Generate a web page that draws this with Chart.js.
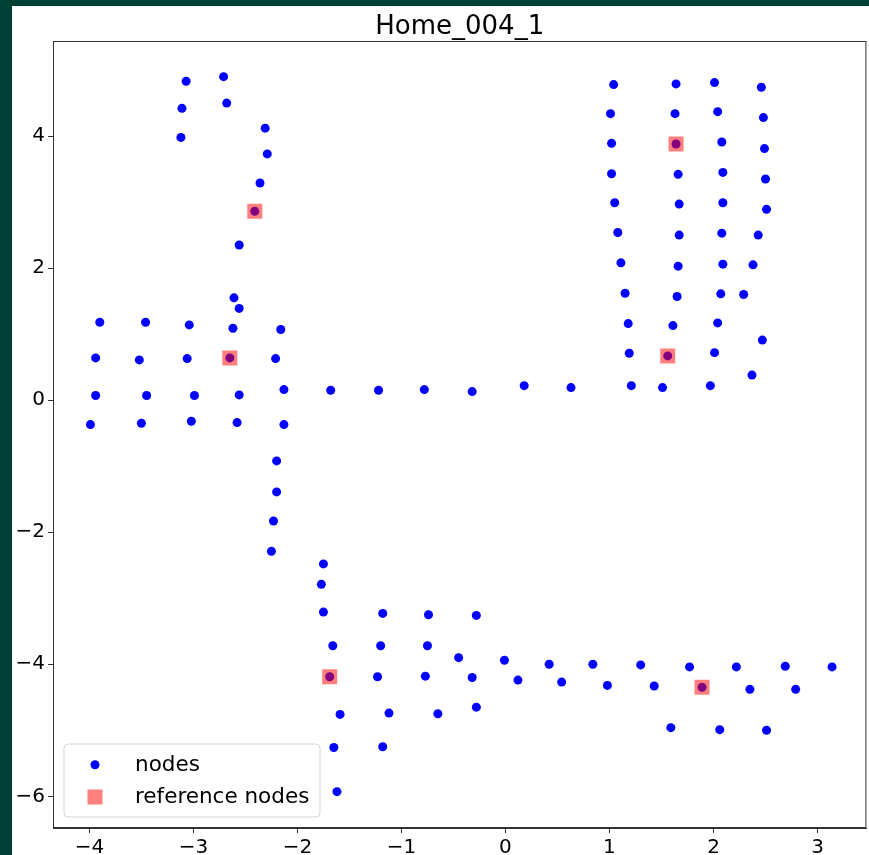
<!DOCTYPE html>
<html>
<head>
<meta charset="utf-8">
<script src="https://cdn.jsdelivr.net/npm/chart.js@4.4.1/dist/chart.umd.min.js"></script>
<style>
    html, body { margin: 0; padding: 0; }
    body { background: #003f34; width: 869px; height: 855px; overflow: hidden; position: relative; }
    #wrap { position: absolute; left: 12px; top: 6px; width: 857px; height: 849px; background: #ffffff; overflow: hidden; }
</style>
</head>
<body>
<!-- canvas is a little wider than its box: chart.js keeps some room right of the plot -->
<div id="wrap"><canvas id="homeChart" width="865" height="849"></canvas></div>
<script>
// node positions
const nodeX = [
    -3.07, -2.71, -3.11, -2.68, -3.12, -2.31, -2.29, -2.36, -2.41, -2.56, -2.61, -2.56,
    -3.90, -3.46, -3.04, -2.62, -2.16,
    -3.94, -3.52, -3.06, -2.65, -2.21,
    -3.94, -3.45, -2.99, -2.56, -2.13,
    -3.99, -3.50, -3.02, -2.58, -2.13,
    -1.68, -1.22, -0.78, -0.32, 0.18, 0.63,
    -2.20, -2.20, -2.23, -2.25, -1.75, -1.77, -1.75, -1.66, -1.69, -1.59, -1.65, -1.62,
    -1.18, -0.74, -0.28, -1.20, -0.75, -0.45, -0.01, 0.42, 0.84,
    -1.23, -0.77, -0.32, 0.12, 0.54, 0.98, -1.12, -0.65, -0.28, -1.18,
    1.30, 1.77, 2.22, 2.69, 3.14, 1.43, 1.89, 2.35, 2.79, 1.59, 2.06, 2.51,
    1.04, 1.01, 1.02, 1.02, 1.05, 1.08, 1.11, 1.15, 1.18, 1.19, 1.21,
    1.64, 1.63, 1.64, 1.66, 1.67, 1.67, 1.66, 1.65, 1.61, 1.56, 1.51,
    2.01, 2.04, 2.08, 2.09, 2.09, 2.08, 2.09, 2.07, 2.04, 2.01, 1.97,
    2.46, 2.48, 2.49, 2.50, 2.51, 2.43, 2.38, 2.29, 2.47, 2.37
];
const nodeY = [
    4.83, 4.90, 4.42, 4.50, 3.98, 4.12, 3.73, 3.29, 2.86, 2.35, 1.55, 1.39,
    1.18, 1.18, 1.14, 1.09, 1.07,
    0.64, 0.61, 0.63, 0.64, 0.63,
    0.07, 0.07, 0.07, 0.08, 0.16,
    -0.37, -0.35, -0.32, -0.34, -0.37,
    0.15, 0.15, 0.16, 0.13, 0.22, 0.19,
    -0.92, -1.39, -1.83, -2.29, -2.48, -2.79, -3.21, -3.72, -4.19, -4.76, -5.26, -5.93,
    -3.23, -3.25, -3.26, -3.72, -3.72, -3.90, -3.94, -4.00, -4.00,
    -4.19, -4.18, -4.20, -4.24, -4.27, -4.32, -4.74, -4.75, -4.65, -5.25,
    -4.01, -4.04, -4.04, -4.03, -4.04, -4.33, -4.35, -4.38, -4.38, -4.96, -4.99, -5.00,
    4.78, 4.34, 3.89, 3.43, 2.99, 2.54, 2.08, 1.62, 1.16, 0.71, 0.22,
    4.79, 4.34, 3.88, 3.42, 2.97, 2.50, 2.03, 1.57, 1.13, 0.67, 0.19,
    4.81, 4.37, 3.91, 3.45, 2.99, 2.53, 2.06, 1.61, 1.17, 0.72, 0.22,
    4.74, 4.28, 3.81, 3.35, 2.89, 2.50, 2.05, 1.60, 0.91, 0.38
];
const refX = [-2.41, 1.64, -2.65, 1.56, -1.69, 1.89];
const refY = [2.86, 3.88, 0.64, 0.67, -4.19, -4.35];

const chartTitle = 'Home_004_1';
const legendLabels = ['nodes', 'reference nodes'];
const xTicks = [-4, -3, -2, -1, 0, 1, 2, 3];
const yTicks = [-6, -4, -2, 0, 2, 4];

const nodeColor = '#0000ff';
const refColor = 'rgba(255, 0, 0, 0.5)';
const fontFamily = '"DejaVu Sans", sans-serif';

function toPoints(xs, ys) {
    return xs.map((x, i) => ({ x: x, y: ys[i] }));
}

function fmtTick(value) {
    return value < 0 ? '\u2212' + Math.abs(value) : String(value);
}

// frame, title and matplotlib-like legend inside the axes
const framePlugin = {
    id: 'frameAndLegend',
    afterDraw(chart) {
        const ca = chart.chartArea;
        const ctx = chart.ctx;
        ctx.save();

        ctx.strokeStyle = '#333';
        ctx.lineWidth = 1;
        ctx.strokeRect(ca.left + 0.5, ca.top + 0.5, ca.right - ca.left - 1, ca.bottom - ca.top - 1);

        ctx.fillStyle = '#000';
        ctx.font = '26px ' + fontFamily;
        ctx.textAlign = 'center';
        ctx.textBaseline = 'alphabetic';
        ctx.fillText(chartTitle, (ca.left + ca.right) / 2, ca.top - 7);

        // legend box
        const bx = ca.left + 11, by = ca.bottom - 84, bw = 256, bh = 73;
        ctx.beginPath();
        ctx.roundRect(bx, by, bw, bh, 4);
        ctx.fillStyle = 'rgba(255,255,255,0.8)';
        ctx.fill();
        ctx.strokeStyle = '#d6d6d6';
        ctx.stroke();

        const mx = bx + 31;
        ctx.beginPath();
        ctx.arc(mx, by + 20.7, 4.5, 0, Math.PI * 2);
        ctx.fillStyle = nodeColor;
        ctx.fill();
        ctx.fillStyle = refColor;
        ctx.fillRect(mx - 7.5, by + 53 - 7.5, 15, 15);

        ctx.fillStyle = '#000';
        ctx.font = '21.5px ' + fontFamily;
        ctx.textAlign = 'left';
        ctx.fillText(legendLabels[0], bx + 71, by + 26.5);
        ctx.fillText(legendLabels[1], bx + 71, by + 58.7);
        ctx.restore();
    }
};

const ctx = document.getElementById('homeChart').getContext('2d');
const homeChart = new Chart(ctx, {
    type: 'scatter',
    data: {
        datasets: [{
            label: legendLabels[0],
            data: toPoints(nodeX, nodeY),
            backgroundColor: nodeColor,
            borderWidth: 0,
            pointRadius: 4.5,
            order: 1
        }, {
            label: legendLabels[1],
            data: toPoints(refX, refY),
            backgroundColor: refColor,
            borderWidth: 0,
            pointStyle: 'rect',
            pointRadius: 10.6,
            order: 0
        }]
    },
    options: {
        responsive: false,
        animation: false,
        events: [],
        layout: {
            padding: { top: 35, right: 3, left: 0, bottom: 0 }
        },
        plugins: {
            legend: { display: false },
            title: { display: false },
            tooltip: { enabled: false }
        },
        scales: {
            x: {
                type: 'linear',
                min: -4.35,
                max: 3.47,
                afterBuildTicks: function(scale) { scale.ticks = xTicks.map(v => ({ value: v })); },
                afterFit: function(scale) { scale.height = 27; },
                border: { color: '#333' },
                grid: { drawOnChartArea: false, tickLength: 5, color: '#333' },
                ticks: {
                    autoSkip: false,
                    maxRotation: 0,
                    padding: 3,
                    color: '#000',
                    font: { family: fontFamily, size: 20 },
                    callback: fmtTick
                }
            },
            y: {
                type: 'linear',
                min: -6.48,
                max: 5.44,
                afterBuildTicks: function(scale) { scale.ticks = yTicks.map(v => ({ value: v })); },
                afterFit: function(scale) { scale.width = 41; },
                border: { color: '#333' },
                grid: { drawOnChartArea: false, tickLength: 5, color: '#333' },
                ticks: {
                    autoSkip: false,
                    padding: 3,
                    color: '#000',
                    font: { family: fontFamily, size: 20 },
                    callback: fmtTick
                }
            }
        }
    },
    plugins: [framePlugin]
});
</script>
</body>
</html>
